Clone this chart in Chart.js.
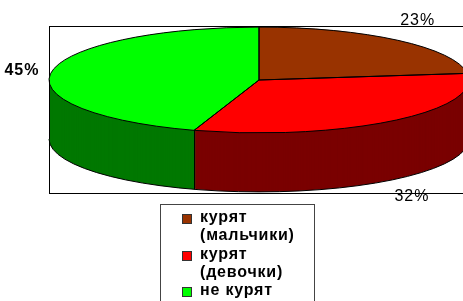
<!DOCTYPE html>
<html>
<head>
<meta charset="utf-8">
<script src="https://cdn.jsdelivr.net/npm/chart.js@4/dist/chart.umd.min.js"></script>
<style>
  body { margin: 0; background: #fff; width: 463px; height: 301px; overflow: hidden; position: relative; font-family: "Liberation Sans", Arial, sans-serif; }
  #chart { position: absolute; left: 0; top: 0; }
  #legend { position: absolute; left: 160px; top: 204px; width: 155px; height: 120px; border: 1px solid #444; box-sizing: border-box; padding: 3px 0 0 21px; }
  .item { display: flex; align-items: flex-start; }
  .box { width: 8px; height: 8px; border: 1px solid #333; margin: 6px 8px 0 0; flex: none; }
  .txt { font-weight: bold; font-size: 16px; letter-spacing: 0.8px; line-height: 18.3px; width: 108px; color: #000; }
</style>
</head>
<body>
<canvas id="chart" width="463" height="301"></canvas>
<div id="legend"></div>
<script>
// данные диаграммы
const labels = ["курят (мальчики)", "курят (девочки)", "не курят"];
const values = [23, 32, 45];
const topColors = ["#993300", "#ff0000", "#00ff00"];
const sideColors = ["#4a1800", "#7a0000", "#007800"];

const K = 0.252;   // сплющивание круга в эллипс
const DEPTH = 59;  // высота боковой стенки

const pie3d = {
  id: "pie3d",
  beforeDraw(chart) {
    const ctx = chart.ctx;
    ctx.save();
    ctx.strokeStyle = "#000";
    ctx.lineWidth = 1;
    ctx.strokeRect(49.5, 26.5, 440, 167);
    ctx.restore();
  },
  beforeDatasetsDraw(chart) {
    const ctx = chart.ctx;
    const arcs = chart.getDatasetMeta(0).data;
    const { x, y } = arcs[0];
    ctx.save();
    ctx.translate(x, y);
    ctx.scale(1, K);
    ctx.translate(-x, -y);
    // боковая стенка - копии секторов темнее, сдвинутые вниз
    for (let d = DEPTH; d >= 1; d--) {
      ctx.save();
      ctx.translate(0, d / K);
      arcs.forEach((arc, i) => {
        const o = arc.options;
        arc.options = Object.assign({}, o, { backgroundColor: sideColors[i], borderWidth: 0 });
        arc.draw(ctx);
        arc.options = o;
      });
      ctx.restore();
    }
  },
  afterDatasetsDraw(chart) {
    const ctx = chart.ctx;
    ctx.restore();
    const arcs = chart.getDatasetMeta(0).data;
    const { x, y, outerRadius: r } = arcs[0];
    const ry = r * K;
    ctx.save();
    ctx.strokeStyle = "#000";
    ctx.lineWidth = 1;
    // контур низа
    ctx.beginPath();
    ctx.ellipse(x, y + DEPTH, r, ry, 0, 0, Math.PI);
    ctx.stroke();
    // вертикальные ребра
    const edges = [0, Math.PI];
    arcs.forEach((arc) => {
      const a = arc.startAngle;
      if (Math.sin(a) > 0) edges.push(a);
    });
    edges.forEach((a) => {
      const px = Math.round(x + r * Math.cos(a)) + 0.5;
      const py = y + ry * Math.sin(a);
      ctx.beginPath();
      ctx.moveTo(px, py);
      ctx.lineTo(px, py + DEPTH);
      ctx.stroke();
    });
    // контуры верхней грани
    arcs.forEach((arc) => {
      ctx.beginPath();
      ctx.moveTo(x, y);
      ctx.ellipse(x, y, r, ry, 0, arc.startAngle, arc.endAngle);
      ctx.closePath();
      ctx.stroke();
    });
    // подписи процентов
    ctx.fillStyle = "#000";
    ctx.textAlign = "center";
    ctx.textBaseline = "middle";
    ctx.letterSpacing = "1px";
    const total = values.reduce((s, v) => s + v, 0);
    arcs.forEach((arc, i) => {
      const mid = (arc.startAngle + arc.endAngle) / 2;
      const s = Math.sin(mid);
      const lx = x + (r + 30) * Math.cos(mid);
      const ly = y + ry * s + 35 * s * Math.abs(s) + (s > 0 ? DEPTH - 4 : 0);
      ctx.font = (i === 2 ? "bold " : "") + "16px 'Liberation Sans', Arial, sans-serif";
      ctx.fillText(Math.round(values[i] / total * 100) + "%", lx, ly);
    });
    ctx.restore();
  }
};

new Chart(document.getElementById("chart"), {
  type: "pie",
  data: {
    labels: labels,
    datasets: [
      {
        data: values,
        backgroundColor: topColors,
        borderWidth: 0,
        clip: false,
      },
    ],
  },
  options: {
    responsive: false,
    animation: false,
    radius: 210,
    layout: { padding: { left: 55, right: 0, top: 0, bottom: 141 } },
    plugins: {
      legend: { display: false },
      tooltip: { enabled: false },
    },
  },
  plugins: [pie3d],
});

// легенда
const legend = document.getElementById("legend");
labels.forEach((name, i) => {
  const row = document.createElement("div");
  row.className = "item";
  row.innerHTML = `<span class="box" style="background:${topColors[i]}"></span><span class="txt">${name}</span>`;
  legend.appendChild(row);
});
</script>
</body>
</html>
